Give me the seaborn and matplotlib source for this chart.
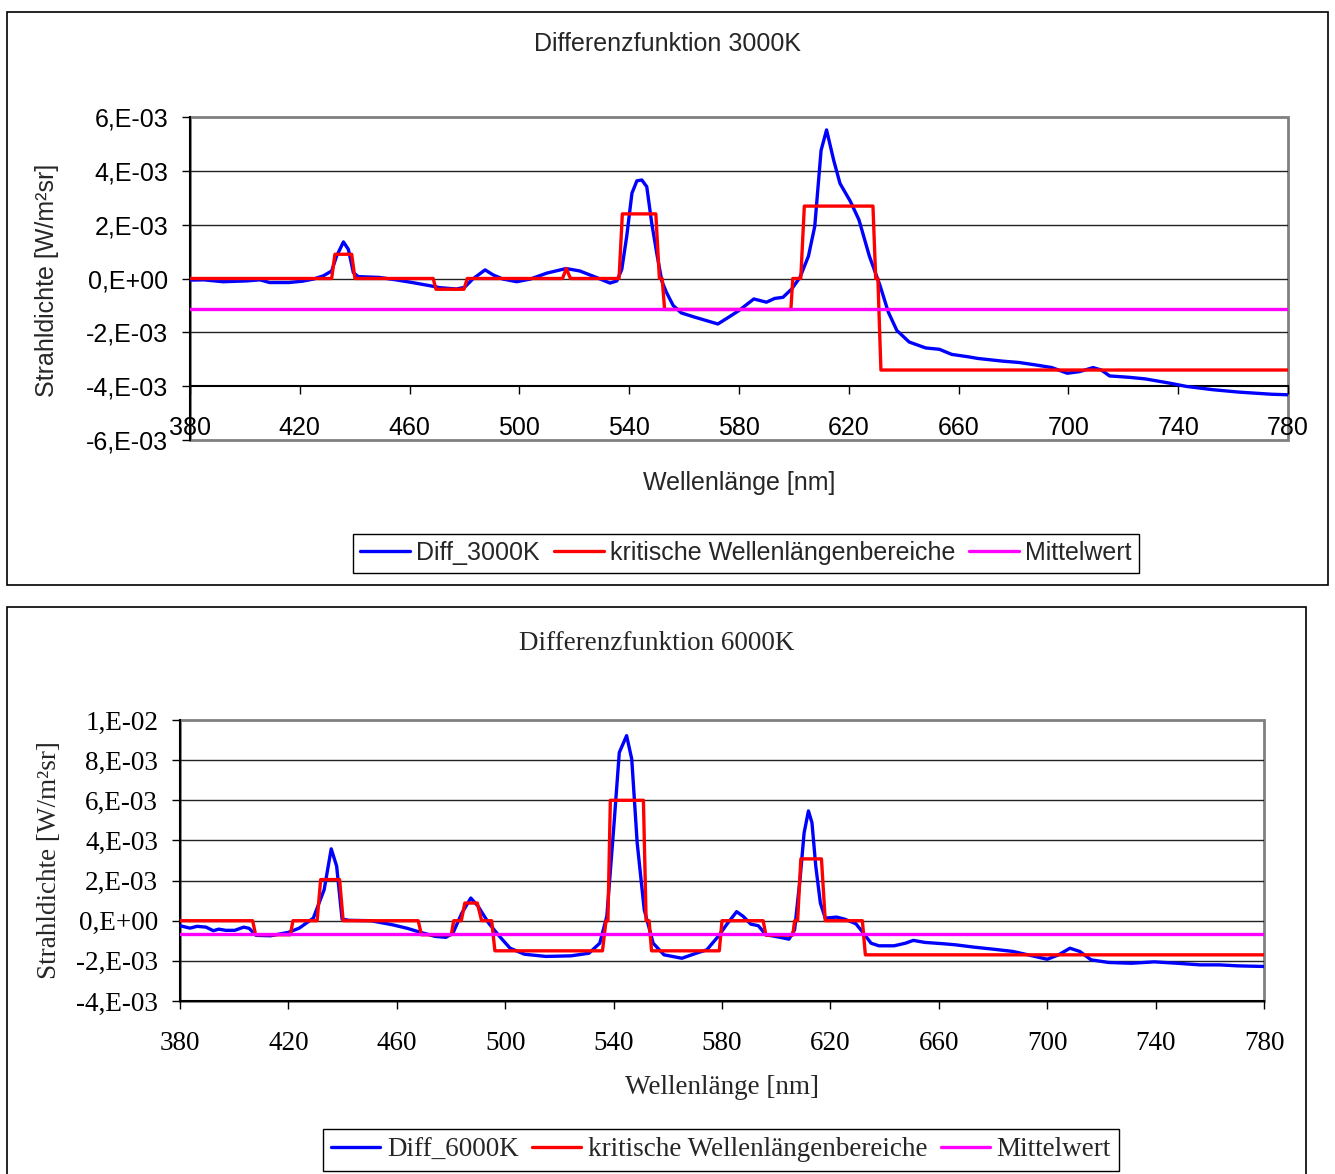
import numpy as np
import pandas as pd
import matplotlib
matplotlib.use("Agg")
import matplotlib.pyplot as plt
from matplotlib.patches import Rectangle
import seaborn as sns

# ---------------- data (values in units of 1E-3 W/m²sr) ----------------
wl_3000 = [380, 385, 392, 400.6, 405.5, 409, 416, 421, 425, 428.6, 431.6, 433.4, 435.9, 437.7,
           439.5, 441.3, 449, 455, 461, 467.5, 471, 477, 480, 483, 487.5, 490.5, 494, 499, 504,
           510, 517, 522, 528, 533, 535.5, 537.3, 539.1, 541, 542.8, 544.6, 546.4, 548.2, 550.1,
           551.9, 553.5, 556, 559, 564, 567, 572.3, 576.2, 580, 585.4, 590, 593, 596, 599.2,
           602.2, 605.3, 607.6, 609.9, 611.9, 614.5, 616.8, 620.6, 623.7, 627.5, 631.4, 634.4,
           637.5, 642, 648, 653, 657.5, 663.6, 667, 676, 682, 688, 694, 699.6, 704, 709, 712,
           715, 722, 728, 737, 743, 752.5, 762, 768, 774, 780]
diff_3000 = [-0.06, -0.05, -0.12, -0.09, -0.05, -0.15, -0.15, -0.10, -0.02, 0.10, 0.28, 0.83, 1.36,
             1.08, 0.22, 0.07, 0.04, -0.05, -0.15, -0.27, -0.34, -0.39, -0.33, -0.02, 0.32, 0.13,
             -0.02, -0.12, -0.02, 0.20, 0.37, 0.28, 0.04, -0.17, -0.09, 0.34, 1.57, 3.17, 3.63,
             3.66, 3.41, 2.06, 0.90, -0.10, -0.50, -1.00, -1.28, -1.44, -1.53, -1.69, -1.44,
             -1.19, -0.76, -0.88, -0.74, -0.70, -0.39, 0.04, 0.83, 1.94, 4.76, 5.52, 4.39, 3.53,
             2.86, 2.18, 0.83, -0.27, -1.25, -1.93, -2.36, -2.58, -2.63, -2.82, -2.91, -2.97,
             -3.07, -3.12, -3.21, -3.31, -3.52, -3.46, -3.31, -3.40, -3.62, -3.67, -3.73, -3.89,
             -4.01, -4.13, -4.22, -4.26, -4.30, -4.32]
crit_wl_3000 = [380, 431.6, 432.8, 438.9, 440.1, 468.6, 469.6, 479.8, 481, 515.7, 517.1, 518.6,
                536.3, 537.5, 549.7, 551, 552, 552.9, 598.9, 599.6, 602.5, 603.8, 628.8, 629.8,
                630.6, 631.7, 780]
crit_3000 = [0, 0, 0.9, 0.9, 0, 0, -0.4, -0.4, 0, 0, 0.37, 0, 0, 2.4, 2.4, 0, 0, -1.15, -1.15,
             0, 0, 2.69, 2.69, 0, 0, -3.4, -3.4]
mean_3000 = -1.15

wl_6000 = [380, 383.7, 386.3, 389.6, 392.3, 394.3, 396.9, 400.2, 403.5, 405.5, 408.1, 413.4, 420,
           424, 429.2, 433.2, 435.8, 437.8, 439.8, 442.4, 450.4, 458.3, 463.6, 468.8, 474.1,
           478.1, 480.7, 484, 487.3, 490, 493.9, 497.9, 501.8, 507.1, 515, 524.3, 530.9, 534.9,
           537.5, 540.1, 542.1, 544.8, 546.7, 548.7, 551.3, 554.6, 558.6, 565.2, 570.5, 574.4,
           578.6, 582.1, 585.4, 587.8, 590.6, 593.4, 596.2, 601.2, 604.7, 606.8, 608.9, 610.3,
           611.9, 613.2, 614.6, 616.3, 618.1, 622.3, 625.2, 629.4, 632.2, 635, 637.9, 643.5,
           647.7, 650.6, 654.8, 661.9, 666.1, 673.2, 680.2, 687.3, 692.9, 700, 704.2, 708.4,
           712, 716.2, 722.6, 731, 739.5, 748, 756.4, 763.5, 770.5, 780]
diff_6000 = [-0.25, -0.37, -0.28, -0.32, -0.50, -0.42, -0.48, -0.48, -0.32, -0.38, -0.73, -0.75,
             -0.58, -0.37, 0.13, 1.55, 3.58, 2.72, 0.08, 0.02, 0.0, -0.20, -0.37, -0.58, -0.78,
             -0.83, -0.62, 0.38, 1.13, 0.72, -0.12, -0.78, -1.37, -1.67, -1.78, -1.75, -1.62,
             -1.12, 0.22, 4.72, 8.38, 9.22, 8.05, 3.88, 0.55, -1.12, -1.70, -1.87, -1.62, -1.45,
             -0.78, -0.12, 0.45, 0.22, -0.17, -0.25, -0.70, -0.82, -0.92, -0.45, 2.22, 4.38,
             5.47, 4.88, 2.72, 0.88, 0.13, 0.18, 0.08, -0.15, -0.62, -1.12, -1.25, -1.25, -1.12,
             -0.98, -1.08, -1.15, -1.20, -1.32, -1.42, -1.53, -1.70, -1.92, -1.70, -1.37, -1.53,
             -1.95, -2.08, -2.12, -2.05, -2.12, -2.20, -2.20, -2.25, -2.28]
crit_wl_6000 = [380, 406.8, 407.9, 420.7, 421.7, 430.6, 431.9, 438.9, 440.2, 467.9, 469.1, 480.1,
                481, 483.8, 485.1, 489.7, 491.3, 495, 496.2, 535.9, 537.2, 537.9, 538.8, 551, 552,
                553.1, 554, 579, 580, 595.2, 596.2, 606.1, 606.8, 607.9, 609.1, 616.7, 618.1,
                631.8, 632.9, 780]
crit_6000 = [0, 0, -0.7, -0.7, 0, 0, 2.05, 2.05, 0, 0, -0.7, -0.7, 0, 0, 0.88, 0.88, 0, 0, -1.5,
             -1.5, 0, 0, 6.0, 6.0, 0, 0, -1.5, -1.5, 0, 0, -0.72, -0.72, 0, 0, 3.08, 3.08, 0, 0,
             -1.7, -1.7]
mean_6000 = -0.67

x_ticks = [380, 420, 460, 500, 540, 580, 620, 660, 700, 740, 780]
y_ticks_3000 = [-6e-3, -4e-3, -2e-3, 0, 2e-3, 4e-3, 6e-3]
y_ticks_6000 = [-4e-3, -2e-3, 0, 2e-3, 4e-3, 6e-3, 8e-3, 1e-2]

# ---------------- style ----------------
sns.set_style("white")
plt.rcParams['font.family'] = ['Liberation Sans', 'DejaVu Sans']

W, H = 1335, 1174
fig = plt.figure(figsize=(W / 100, H / 100), dpi=100)


def fx(px):
    return px / W


def fy(py):
    return 1 - py / H


def excel_sci(v):
    if v == 0:
        return "0,E+00"
    e = int(np.floor(np.log10(abs(v)) + 1e-9))
    m = int(round(v / 10 ** e))
    return f"{m},E{e:+03d}"


def panel(box, frame, title, title_xy, family, fs, wl, diff, cwl, crit, mean, yticks, ylim,
          axis_cross, series_name, xlab_xy, ylab_xy, leg_xy, xpad, hlen, cspace):
    l, t, r, b = box
    ax = fig.add_axes([fx(l), fy(b), fx(r) - fx(l), fy(t) - fy(b)])
    ax.set_facecolor('white')
    fl, ft, fr, fb = frame
    fig.patches.append(Rectangle((fx(fl), fy(fb)), fx(fr) - fx(fl), fy(ft) - fy(fb),
                                 transform=fig.transFigure, fill=False, ec='black', lw=1.2))

    for s in ['top', 'right']:
        ax.spines[s].set_visible(False)
    ax.spines['left'].set_color('black')
    ax.spines['left'].set_linewidth(1.5)
    ax.spines['bottom'].set_color('black')
    ax.spines['bottom'].set_linewidth(1.5)
    ax.spines['bottom'].set_position(('data', axis_cross))

    d_diff = pd.DataFrame({'wl': wl, 'v': np.array(diff) * 1e-3})
    d_crit = pd.DataFrame({'wl': cwl, 'v': np.array(crit) * 1e-3})
    d_mean = pd.DataFrame({'wl': [wl[0], wl[-1]], 'v': [mean * 1e-3, mean * 1e-3]})
    sns.lineplot(data=d_diff, x='wl', y='v', ax=ax, color='#0000FF', lw=2.4,
                 sort=False, estimator=None, label=series_name, zorder=3)
    sns.lineplot(data=d_crit, x='wl', y='v', ax=ax, color='#FF0000', lw=2.4,
                 sort=False, estimator=None, label='kritische Wellenlängenbereiche', zorder=4)
    sns.lineplot(data=d_mean, x='wl', y='v', ax=ax, color='#FF00FF', lw=2.4,
                 sort=False, estimator=None, label='Mittelwert', zorder=5)

    ax.set_xlim(380, 780)
    ax.set_ylim(*ylim)
    ax.set_xticks(x_ticks, labels=[str(v) for v in x_ticks])
    ax.set_yticks(yticks, labels=[excel_sci(v) for v in yticks])
    ax.tick_params(axis='both', direction='out', length=8 * 0.72, width=1, color='black',
                   left=True, bottom=True, labelsize=fs, labelfontfamily=family,
                   labelcolor='black')
    ax.tick_params(axis='y', pad=10)
    ax.tick_params(axis='x', pad=xpad)

    for yv in yticks:
        if ylim[0] < yv < ylim[1] and yv != axis_cross:
            ax.axhline(yv, color='#222222', lw=1, zorder=1)

    ax.add_patch(Rectangle((0, 0), 1, 1, transform=ax.transAxes, fill=False,
                           ec='#808080', lw=2, clip_on=False, zorder=0.5))

    ax.set_xlabel('Wellenlänge [nm]', fontsize=fs, fontfamily=family, va='center')
    ax.xaxis.set_label_coords(fx(xlab_xy[0]), fy(xlab_xy[1]), transform=fig.transFigure)
    ax.set_ylabel('Strahldichte [W/m²sr]', fontsize=fs, fontfamily=family, va='center')
    ax.yaxis.set_label_coords(fx(ylab_xy[0]), fy(ylab_xy[1]), transform=fig.transFigure)

    fig.text(fx(title_xy[0]), fy(title_xy[1]), title, ha='center', va='center',
             fontsize=fs, fontfamily=family)

    handles, labels = ax.get_legend_handles_labels()
    leg = ax.legend(handles, labels, loc='center', ncol=3,
                    bbox_to_anchor=(fx(leg_xy[0]), fy(leg_xy[1])),
                    bbox_transform=fig.transFigure, frameon=True, fancybox=False,
                    framealpha=1, edgecolor='black', handlelength=hlen, handletextpad=0.25,
                    columnspacing=cspace, borderpad=0.3, borderaxespad=0,
                    prop={'family': family, 'size': fs})
    leg.get_frame().set_linewidth(1)
    return ax


panel(box=(190, 117, 1288, 440), frame=(7, 12, 1328, 585),
      title='Differenzfunktion 3000K', title_xy=(668, 44),
      family='Liberation Sans', fs=18,
      wl=wl_3000, diff=diff_3000, cwl=crit_wl_3000, crit=crit_3000, mean=mean_3000,
      yticks=y_ticks_3000, ylim=(-6e-3, 6e-3), axis_cross=-4e-3, series_name='Diff_3000K',
      xlab_xy=(739, 483), ylab_xy=(47, 280), leg_xy=(746, 553), xpad=16,
      hlen=2.0, cspace=0.55)

panel(box=(180, 720, 1264, 1001), frame=(7, 607, 1306, 1185),
      title='Differenzfunktion 6000K', title_xy=(657, 643),
      family='Liberation Serif', fs=19.5,
      wl=wl_6000, diff=diff_6000, cwl=crit_wl_6000, crit=crit_6000, mean=mean_6000,
      yticks=y_ticks_6000, ylim=(-4e-3, 1e-2), axis_cross=-4e-3, series_name='Diff_6000K',
      xlab_xy=(722, 1088), ylab_xy=(50, 860), leg_xy=(721, 1150), xpad=16,
      hlen=1.8, cspace=0.5)

fig.savefig('out.png', dpi=100, facecolor='white')
